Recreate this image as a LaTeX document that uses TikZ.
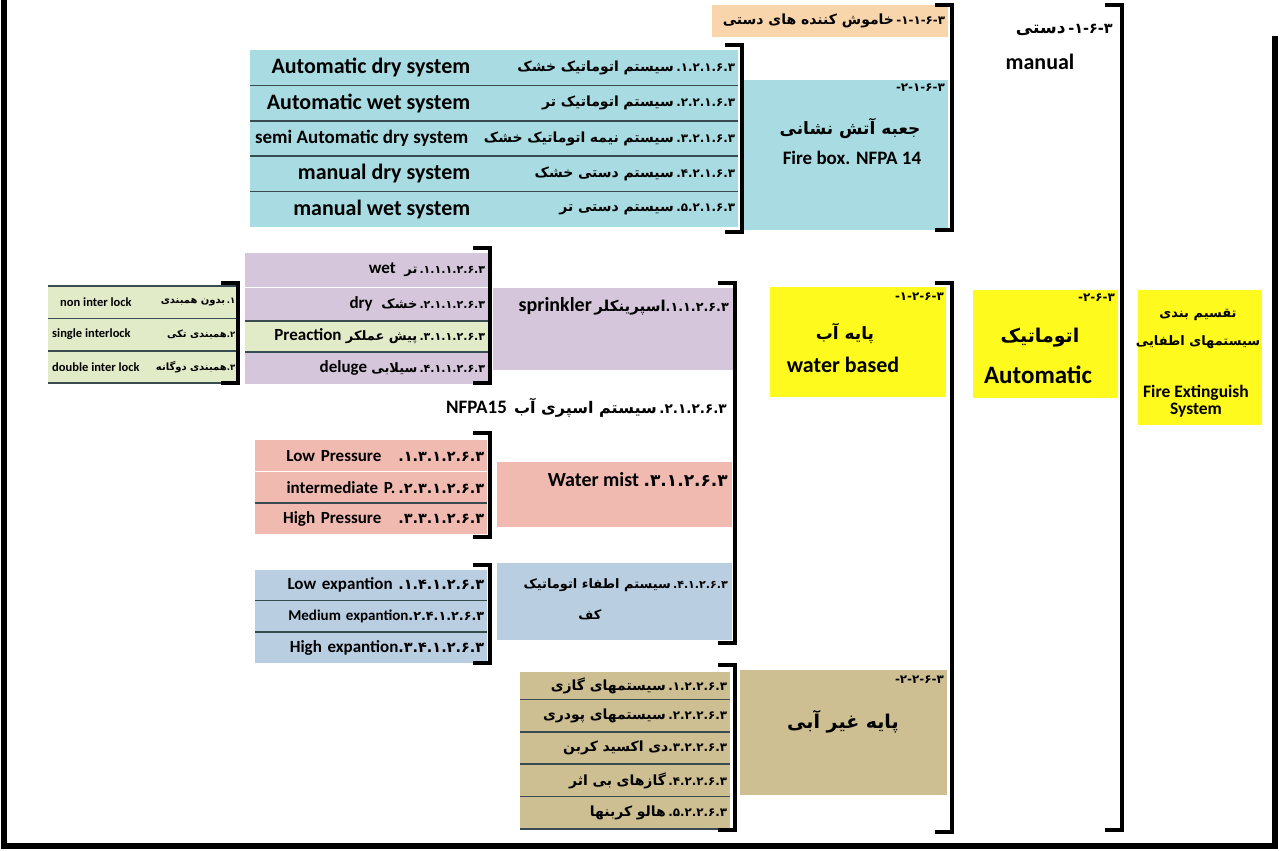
\documentclass[tikz,border=0pt]{standalone}
\usepackage{fontspec}
\setmainfont{Carlito}
\newfontfamily\fafont[Script=Arabic]{DejaVu Sans}
\newfontfamily\digfont[Scale=0.85]{DejaVu Sans}
\TeXXeTstate=1
\usetikzlibrary{positioning}
\definecolor{fbcyan}{RGB}{168,220,226}
\definecolor{peach}{RGB}{249,213,172}
\definecolor{lilac}{RGB}{213,198,219}
\definecolor{palegreen}{RGB}{226,235,200}
\definecolor{salmon}{RGB}{241,186,176}
\definecolor{foamblue}{RGB}{186,206,226}
\definecolor{nwtan}{RGB}{205,191,146}
\definecolor{hiyellow}{RGB}{255,250,30}
\definecolor{rowline}{RGB}{55,75,80}
\newcommand\fsz[1]{\fontsize{#1}{#1}\selectfont}
\newcommand\prs[1]{{\fafont\bfseries\beginR #1\endR}}
\newcommand\pnum[1]{{\digfont\bfseries #1}}
\tikzset{
	row/.style={
		anchor=north west,
		inner xsep=3pt,
		inner ysep=0pt,
		align=right
	},
	fbrow/.style={row, fill=fbcyan, text width=482pt, minimum height=35pt, font=\fsz{14}\bfseries},
	sprow/.style={row, fill=lilac, text width=237pt, font=\fsz{13}\bfseries},
	ilrow/.style={row, fill=palegreen, text width=184pt, minimum height=32pt, font=\fsz{10}\bfseries},
	mistrow/.style={row, fill=salmon, text width=226pt, minimum height=31pt, font=\fsz{17}\bfseries},
	foamrow/.style={row, fill=foamblue, text width=226pt, minimum height=31pt, font=\fsz{17}\bfseries},
	nwrow/.style={row, fill=nwtan, text width=204pt, minimum height=32pt, font=\fsz{14}\bfseries},
	pbox/.style={anchor=north west, inner sep=0pt},
	en/.style={font=\fsz{22}\bfseries, inner sep=0pt},
	fa/.style={inner sep=0pt},
	secno/.style={font=\fsz{14}, inner sep=0pt, anchor=north east},
	sepline/.style={draw=rowline, line width=1.5pt},
	frame/.style={line width=6pt},
	brk/.style={line width=4.5pt, line join=miter,
		to path={([xshift=-17pt]\tikztostart) -- (\tikztostart) -- (\tikztotarget) -- ([xshift=-17pt]\tikztotarget)}}
}

\begin{document}
\begin{tikzpicture}[x=1pt, y=-1pt]
	\useasboundingbox (0,0) rectangle (1280,851);
	\draw[frame] (4,0) -- (4,846) -- (1275,846) -- (1275,36);

	% root
	\node[pbox, fill=hiyellow, minimum width=124pt, minimum height=135pt] (fes) at (1138,290) {};
	\node[fa, font=\fsz{13}, align=center] (festx) at (1198,329) {\prs{تقسیم بندی}\\[14pt]\prs{سیستمهای اطفایی}};
	\node[en, font=\fsz{17.5}\bfseries, align=center] (fesen) at (1196,401) {Fire Extinguish\\System};

	% manual / automatic
	\node[fa, anchor=east, font=\fsz{17}] (mantx) at (1113,30) {\prs{دستی}\,\pnum{-۱-۶-۳}};
	\node[en] (manen) at (1040,62) {manual};
	\node[pbox, fill=hiyellow, minimum width=145pt, minimum height=108pt] (auto) at (973,290) {};
	\node[secno] (autono) at (1115,294) {\pnum{-۲-۶-۳}};
	\node[fa, font=\fsz{19}] (autofa) at (1040,338) {\prs{اتوماتیک}};
	\node[en, font=\fsz{25}\bfseries] (autoen) at (1038,375) {Automatic};

	% manual children
	\node[pbox, fill=peach, minimum width=236pt, minimum height=32pt] (hand) at (712,5) {};
	\node[fa, anchor=east, font=\fsz{14}] (handtx) at ([xshift=-3pt]hand.east) {\prs{خاموش کننده های دستی}\,\pnum{-۱-۱-۶-۳}};
	\node[pbox, fill=fbcyan, minimum width=206pt, minimum height=150pt] (fbox) at (742,80) {};
	\node[secno] (fboxno) at (945,84) {\pnum{-۲-۱-۶-۳}};
	\node[fa, font=\fsz{17}] (fboxfa) at (850,128) {\prs{جعبه آتش نشانی}};
	\node[en, font=\fsz{19}\bfseries] (fboxen) at (852,158) {Fire box. NFPA 14};

	% fire box rows
	\node[fbrow] (fb1) at (250,50) {\prs{سیستم اتوماتیک خشک}\,\pnum{.۱.۲.۱.۶.۳}};
	\node[fbrow, below=0pt of fb1] (fb2) {\prs{سیستم اتوماتیک تر}\,\pnum{.۲.۲.۱.۶.۳}};
	\node[fbrow, below=0pt of fb2] (fb3) {\prs{سیستم نیمه اتوماتیک خشک}\,\pnum{.۳.۲.۱.۶.۳}};
	\node[fbrow, below=0pt of fb3] (fb4) {\prs{سیستم دستی خشک}\,\pnum{.۴.۲.۱.۶.۳}};
	\node[fbrow, below=0pt of fb4] (fb5) {\prs{سیستم دستی تر}\,\pnum{.۵.۲.۱.۶.۳}};
	\node[en, anchor=east] (fb1en) at ([xshift=-268pt]fb1.east) {Automatic dry system};
	\node[en, anchor=east] (fb2en) at ([xshift=-268pt]fb2.east) {Automatic wet system};
	\node[en, anchor=east, font=\fsz{19}\bfseries] (fb3en) at ([xshift=-270pt]fb3.east) {semi Automatic dry system};
	\node[en, anchor=east] (fb4en) at ([xshift=-268pt]fb4.east) {manual dry system};
	\node[en, anchor=east] (fb5en) at ([xshift=-268pt]fb5.east) {manual wet system};
	\draw[sepline] (fb1.south west) -- (fb1.south east);
	\draw[sepline] (fb2.south west) -- (fb2.south east);
	\draw[sepline] (fb3.south west) -- (fb3.south east);
	\draw[sepline] (fb4.south west) -- (fb4.south east);

	% automatic children
	\node[pbox, fill=hiyellow, minimum width=176pt, minimum height=110pt] (wbased) at (770,287) {};
	\node[secno] (wbasedno) at (944,293) {\pnum{-۱-۲-۶-۳}};
	\node[fa, font=\fsz{17}] (wbasedfa) at (845,333) {\prs{پایه آب}};
	\node[en] (wbaseden) at (843,365) {water based};
	\node[pbox, fill=nwtan, minimum width=207pt, minimum height=125pt] (nwater) at (740,670) {};
	\node[secno] (nwaterno) at (944,676) {\pnum{-۲-۲-۶-۳}};
	\node[fa, font=\fsz{19}] (nwaterfa) at (843,722) {\prs{پایه غیر آبی}};

	% water based children
	\node[pbox, fill=lilac, minimum width=240pt, minimum height=82pt] (spr) at (493,288) {};
	\node[fa, anchor=north east, font=\fsz{15}\bfseries] (sprtx) at (729,297) {{\fsz{20}sprinkler}\,\prs{اسپرینکلر}\pnum{.۱.۱.۲.۶.۳}};
	\node[fa, anchor=east, font=\fsz{16}\bfseries] (spray) at (727,408) {{\fsz{19}NFPA15}\ \ \prs{سیستم اسپری آب}\,\pnum{.۲.۱.۲.۶.۳}};
	\node[pbox, fill=salmon, minimum width=235pt, minimum height=65pt] (mist) at (497,462) {};
	\node[fa, anchor=east, font=\fsz{20}\bfseries] (misttx) at (728,480) {Water mist \pnum{.۳.۱.۲.۶.۳}};
	\node[pbox, fill=foamblue, minimum width=235pt, minimum height=77pt] (foam) at (497,563) {};
	\node[fa, anchor=east, font=\fsz{13}] (foamtx) at (728,585) {\prs{سیستم اطفاء اتوماتیک}\,\pnum{.۴.۱.۲.۶.۳}};
	\node[fa, font=\fsz{13}] (foamtx2) at (590,615) {\prs{کف}};

	% sprinkler rows
	\node[sprow, minimum height=34pt] (sp1) at (245,253) {{\fsz{17}wet}\ \ \prs{تر}\,\pnum{.۱.۱.۱.۲.۶.۳}};
	\node[sprow, minimum height=33pt, below=0pt of sp1] (sp2) {{\fsz{17}dry}\ \ \prs{خشک}\,\pnum{.۲.۱.۱.۲.۶.۳}};
	\node[sprow, fill=palegreen, minimum height=31pt, below=0pt of sp2] (sp3) {{\fsz{17}Preaction}\ \prs{پیش عملکر}\,\pnum{.۳.۱.۱.۲.۶.۳}};
	\node[sprow, minimum height=32pt, below=0pt of sp3] (sp4) {{\fsz{17}deluge}\ \prs{سیلابی}\,\pnum{.۴.۱.۱.۲.۶.۳}};
	\draw[sepline] (sp3.north west) -- (sp3.north east);
	\draw[sepline] (sp3.south west) -- (sp3.south east);

	% interlock rows
	\node[ilrow] (il1) at (48,286) {\prs{بدون همبندی}\,\pnum{.۱}};
	\node[ilrow, below=0pt of il1] (il2) {\prs{همبندی تکی}\pnum{.۲}};
	\node[ilrow, below=0pt of il2] (il3) {\prs{همبندی دوگانه}\pnum{.۳}};
	\node[fa, anchor=west, font=\fsz{12.5}\bfseries] (il1en) at ([xshift=12pt]il1.west) {non inter lock};
	\node[fa, anchor=west, font=\fsz{12.5}\bfseries] (il2en) at ([xshift=4pt]il2.west) {single interlock};
	\node[fa, anchor=west, font=\fsz{12.5}\bfseries] (il3en) at ([xshift=4pt]il3.west) {double inter lock};
	\draw[sepline] (il1.north west) -- (il1.north east);
	\draw[sepline] (il1.south west) -- (il1.south east);
	\draw[sepline] (il2.south west) -- (il2.south east);
	\draw[sepline] (il3.south west) -- (il3.south east);

	% water mist rows
	\node[mistrow] (mist1) at (255,440) {Low Pressure\quad\pnum{.۱.۳.۱.۲.۶.۳}};
	\node[mistrow, below=0pt of mist1] (mist2) {intermediate P.\,\pnum{.۲.۳.۱.۲.۶.۳}};
	\node[mistrow, below=0pt of mist2] (mist3) {High Pressure\quad\pnum{.۳.۳.۱.۲.۶.۳}};
	\draw[sepline] (mist2.south west) -- (mist2.south east);

	% foam rows
	\node[foamrow, minimum height=30pt] (foam1) at (255,570) {Low expantion\ \pnum{.۱.۴.۱.۲.۶.۳}};
	\node[foamrow, font=\fsz{15}\bfseries, below=0pt of foam1] (foam2) {Medium expantion\pnum{.۲.۴.۱.۲.۶.۳}};
	\node[foamrow, below=0pt of foam2] (foam3) {High expantion\pnum{.۳.۴.۱.۲.۶.۳}};
	\draw[sepline] (foam1.south west) -- (foam1.south east);
	\draw[sepline] (foam2.south west) -- (foam2.south east);

	% non water rows
	\node[nwrow, minimum height=27pt] (nw1) at (520,672) {\prs{سیستمهای گازی}\,\pnum{.۱.۲.۲.۶.۳}};
	\node[nwrow, below=0pt of nw1] (nw2) {\prs{سیستمهای پودری}\,\pnum{.۲.۲.۲.۶.۳}};
	\node[nwrow, below=0pt of nw2] (nw3) {\prs{دی اکسید کربن}\pnum{.۳.۲.۲.۶.۳}};
	\node[nwrow, below=0pt of nw3] (nw4) {\prs{گازهای بی اثر}\,\pnum{.۴.۲.۲.۶.۳}};
	\node[nwrow, below=0pt of nw4] (nw5) {\prs{هالو کربنها}\,\pnum{.۵.۲.۲.۶.۳}};
	\draw[sepline] (nw1.south west) -- (nw1.south east);
	\draw[sepline] (nw2.south west) -- (nw2.south east);
	\draw[sepline] (nw3.south west) -- (nw3.south east);
	\draw[sepline] (nw4.south west) -- (nw4.south east);
	\draw[sepline] (nw5.south west) -- (nw5.south east);

	% brackets
	\coordinate (mainT) at (1122,5);
	\coordinate (mainB) at (1122,830);
	\coordinate (manT) at (952,5);
	\coordinate (manB) at (952,230);
	\coordinate (autoT) at (952,283);
	\coordinate (autoB) at (952,832);
	\coordinate (fbT) at (742,45);
	\coordinate (fbB) at (742,232);
	\coordinate (wbT) at (735,283);
	\coordinate (wbB) at (735,643);
	\coordinate (nwT) at (735,665);
	\coordinate (nwB) at (735,830);
	\coordinate (spT) at (490,248);
	\coordinate (spB) at (490,383);
	\coordinate (mistT) at (490,433);
	\coordinate (mistB) at (490,537);
	\coordinate (foamT) at (490,565);
	\coordinate (foamB) at (490,663);
	\coordinate (ilT) at (238,283);
	\coordinate (ilB) at (238,383);
	\draw[brk] (mainT) to (mainB);
	\draw[brk] (manT) to (manB);
	\draw[brk] (autoT) to (autoB);
	\draw[brk] (fbT) to (fbB);
	\draw[brk] (wbT) to (wbB);
	\draw[brk] (nwT) to (nwB);
	\draw[brk] (spT) to (spB);
	\draw[brk] (mistT) to (mistB);
	\draw[brk] (foamT) to (foamB);
	\draw[brk] (ilT) to (ilB);
\end{tikzpicture}
\end{document}
